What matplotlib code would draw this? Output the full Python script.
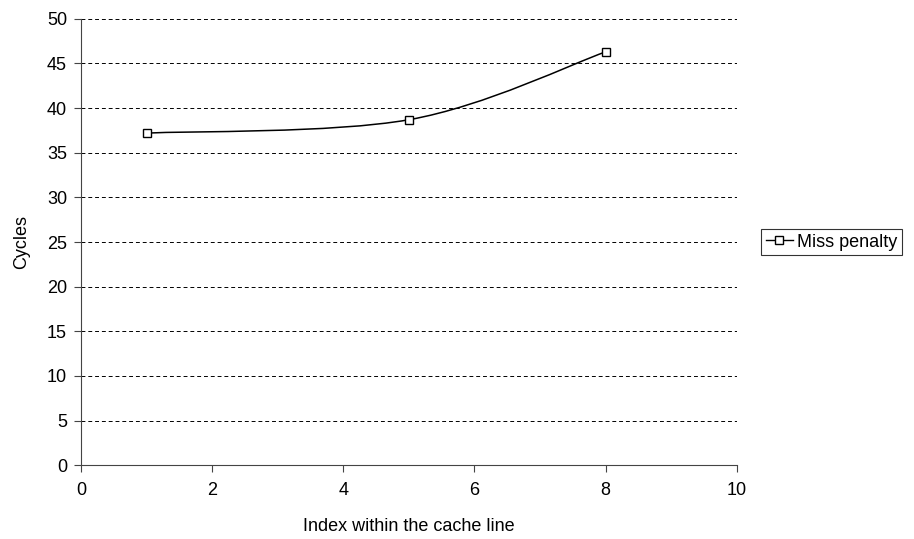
import matplotlib
matplotlib.use("Agg")
import matplotlib.pyplot as plt
from matplotlib.path import Path
from matplotlib.patches import PathPatch
from matplotlib.lines import Line2D

index = [1, 5, 8]
cycles = [37.2, 38.7, 46.3]


def smooth_path(xs, ys):
    # Catmull-Rom segments written as cubic Bezier curves
    pts = list(zip(xs, ys))
    verts = [pts[0]]
    codes = [Path.MOVETO]
    for i in range(len(pts) - 1):
        p0 = pts[i - 1] if i > 0 else pts[i]
        p1, p2 = pts[i], pts[i + 1]
        p3 = pts[i + 2] if i + 2 < len(pts) else pts[i + 1]
        c1 = (p1[0] + (p2[0] - p0[0]) / 6, p1[1] + (p2[1] - p0[1]) / 6)
        c2 = (p2[0] - (p3[0] - p1[0]) / 6, p2[1] - (p3[1] - p1[1]) / 6)
        verts += [c1, c2, p2]
        codes += [Path.CURVE4] * 3
    return Path(verts, codes)


plt.rcParams["font.family"] = ["Liberation Sans", "DejaVu Sans"]
fig = plt.figure(figsize=(9.14, 5.39), dpi=100)
ax = fig.add_axes([0.0886, 0.137, 0.7175, 0.828])

ax.add_patch(PathPatch(smooth_path(index, cycles), fill=False, color="black", lw=1.1))
ax.plot(index, cycles, ls="none", marker="s", ms=6, mfc="white", mec="black", mew=1.0)

ax.set_xlim(0, 10)
ax.set_ylim(0, 50)
ax.set_xticks(range(0, 11, 2))
ax.set_yticks(range(0, 51, 5))
ax.yaxis.grid(True, ls=(0, (4, 3)), color="black", lw=0.7)
ax.set_axisbelow(True)
for s in ("top", "right"):
    ax.spines[s].set_visible(False)
for s in ("left", "bottom"):
    ax.spines[s].set_color("#444444")
ax.tick_params(direction="out", length=5, color="#444444", labelsize=13)
ax.tick_params(axis="x", pad=7)
ax.tick_params(axis="y", pad=5)
ax.set_xlabel("Index within the cache line", fontsize=13, labelpad=14)
ax.set_ylabel("Cycles", fontsize=13, labelpad=12)

handle = Line2D([], [], color="black", lw=1, marker="s", ms=6, mfc="white", mec="black")
leg = fig.legend([handle], ["Miss penalty"], loc="center left",
                 bbox_to_anchor=(0.833, 0.551), fontsize=13, frameon=True,
                 fancybox=False, edgecolor="black", handlelength=1.5,
                 handletextpad=0.25, borderpad=0.25, borderaxespad=0)
leg.get_frame().set_linewidth(0.8)

fig.savefig("out.png", dpi=100)
